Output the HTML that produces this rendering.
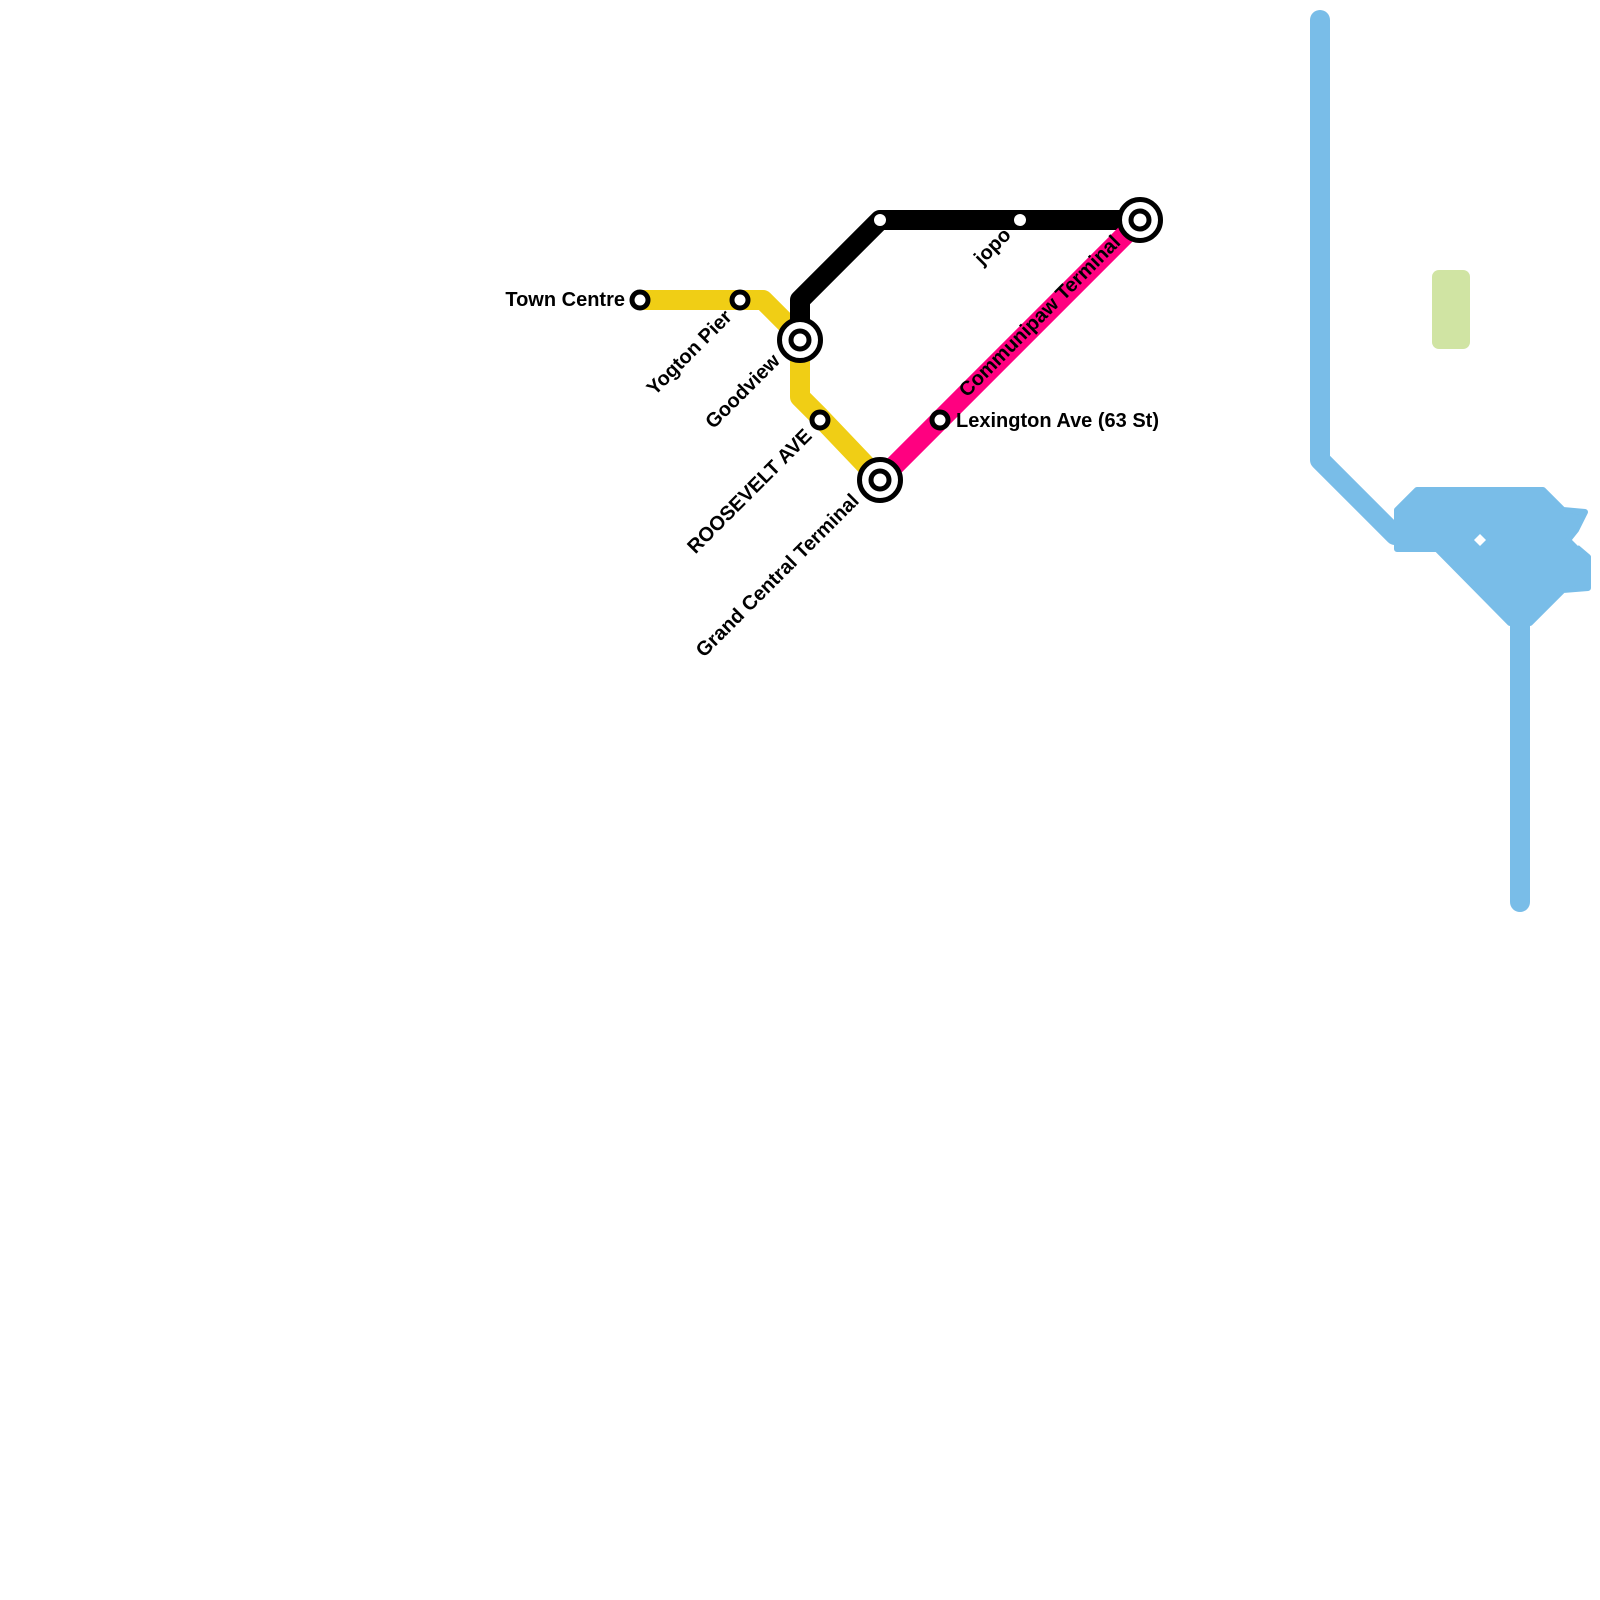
<!DOCTYPE html>
<html><head><meta charset="utf-8"><style>html,body{margin:0;padding:0;background:#fff}svg{display:block}</style></head>
<body>
<svg width="1600" height="1600" viewBox="0 0 1600 1600" xmlns="http://www.w3.org/2000/svg" font-family="Liberation Sans, sans-serif" font-weight="bold" font-size="20">
<rect width="1600" height="1600" fill="#fff"/>
<g fill="#79bde8" stroke="#79bde8" stroke-linejoin="round" stroke-linecap="round">
<polyline points="1320,20 1320,460 1395,535" fill="none" stroke-width="20"/>
<line x1="1520" y1="600" x2="1520" y2="902" stroke-width="20"/>
<polygon stroke-width="6" points="1397,510 1417,490 1543,490 1563,510 1585,512 1576,530 1568,540 1588,557 1588,588 1563,590 1530,623 1510,623 1437,549 1397,549"/>
</g>
<polygon fill="#fff" points="1480,534 1486,540 1480,546 1474,540"/>
<polygon fill="#fff" points="1578,534 1584,540 1578,546 1572,540"/>
<rect x="1432" y="270" width="38" height="79" rx="7" fill="#d0e4a3"/>
<polyline points="640,300 763,300 800,337" fill="none" stroke="#f0ce15" stroke-width="20" stroke-linejoin="round"/>
<polyline points="800,340 800,397 820,417 880,480" fill="none" stroke="#f0ce15" stroke-width="20" stroke-linejoin="round"/>
<polyline points="800,340 800,300 880,220 1140,220" fill="none" stroke="#000" stroke-width="20" stroke-linejoin="round"/>
<line x1="880" y1="480" x2="1140" y2="220" stroke="#ff0080" stroke-width="20"/>
<g fill="#fff" stroke="#000" stroke-width="5">
<circle cx="640" cy="300" r="8"/>
<circle cx="740" cy="300" r="8"/>
<circle cx="820" cy="420" r="8"/>
<circle cx="940" cy="420" r="8"/>
<circle cx="800" cy="340" r="20.5"/><circle cx="800" cy="340" r="9"/>
<circle cx="880" cy="480" r="20.5"/><circle cx="880" cy="480" r="9"/>
<circle cx="1140" cy="220" r="20.5"/><circle cx="1140" cy="220" r="9"/>
</g>
<circle cx="880" cy="220" r="6" fill="#fff"/>
<circle cx="1020" cy="220" r="6" fill="#fff"/>
<text x="625" y="306" text-anchor="end">Town Centre</text>
<text x="956" y="427">Lexington Ave (63 St)</text>
<text text-anchor="end" transform="translate(733,318) rotate(-45)">Yogton Pier</text>
<text text-anchor="end" transform="translate(781,362) rotate(-45)">Goodview</text>
<text text-anchor="end" transform="translate(813,437) rotate(-45)">ROOSEVELT AVE</text>
<text text-anchor="end" transform="translate(860,502) rotate(-45)">Grand Central Terminal</text>
<text text-anchor="end" transform="translate(1012,236) rotate(-45)">jopo</text>
<text transform="translate(967,398) rotate(-45)">Communipaw Terminal</text>
</svg>
</body></html>
